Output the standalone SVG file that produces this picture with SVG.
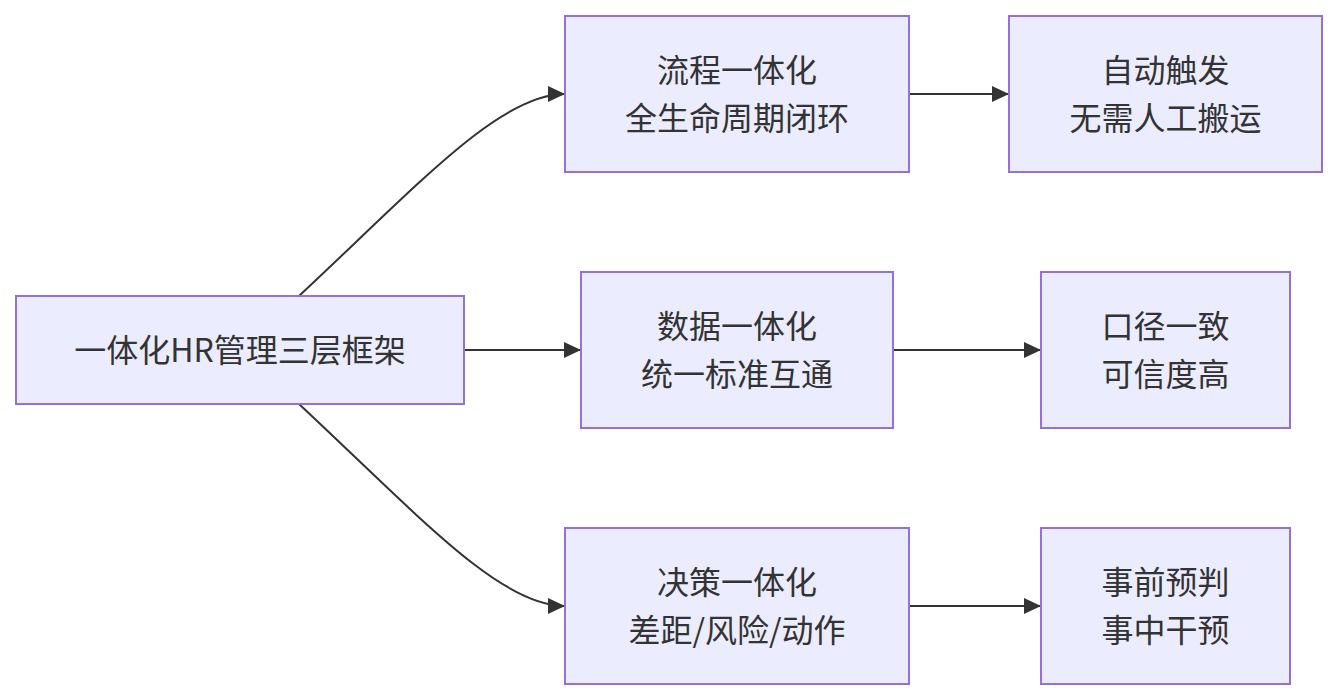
<svg xmlns="http://www.w3.org/2000/svg" width="1337" height="700" viewBox="0 0 1337 700">
<style>
.node rect{fill:#ECECFF;stroke:#9370DB;stroke-width:2}
.node text{font-family:"Noto Sans CJK SC","Noto Sans",sans-serif;font-size:32px;fill:#333;text-anchor:middle;dominant-baseline:central}
.edge{fill:none;stroke:#333;stroke-width:2}
</style>
<defs>
<marker id="arr" markerUnits="userSpaceOnUse" markerWidth="17" markerHeight="16" refX="17" refY="8" orient="auto">
<path d="M0,0 L17,8 L0,16 z" fill="#333"/>
</marker>
</defs>
<rect width="1337" height="700" fill="#fff"/>
<g id="connectors">
<path class="edge" d="M299,296 C420,183 500,94 565,94" marker-end="url(#arr)"/>
<path class="edge" d="M464,350 L581,350" marker-end="url(#arr)"/>
<path class="edge" d="M299,404 C420,517 500,606 565,606" marker-end="url(#arr)"/>
<path class="edge" d="M909,94 L1009,94" marker-end="url(#arr)"/>
<path class="edge" d="M893,350 L1041,350" marker-end="url(#arr)"/>
<path class="edge" d="M909,606 L1041,606" marker-end="url(#arr)"/>
</g>
<g id="A" class="node"><rect x="16" y="296" width="448" height="108"/><text x="240" y="348">一体化HR管理三层框架</text></g>
<g id="B1" class="node"><rect x="565" y="16" width="344" height="156"/><text x="737" y="68">流程一体化</text><text x="737" y="116">全生命周期闭环</text></g>
<g id="B2" class="node"><rect x="581" y="272" width="312" height="156"/><text x="737" y="324">数据一体化</text><text x="737" y="372">统一标准互通</text></g>
<g id="B3" class="node"><rect x="565" y="528" width="344" height="156"/><text x="737" y="580">决策一体化</text><text x="737" y="628">差距/风险/动作</text></g>
<g id="C1" class="node"><rect x="1009" y="16" width="313" height="156"/><text x="1165.5" y="68">自动触发</text><text x="1165.5" y="116">无需人工搬运</text></g>
<g id="C2" class="node"><rect x="1041" y="272" width="249" height="156"/><text x="1165.5" y="324">口径一致</text><text x="1165.5" y="372">可信度高</text></g>
<g id="C3" class="node"><rect x="1041" y="528" width="249" height="156"/><text x="1165.5" y="580">事前预判</text><text x="1165.5" y="628">事中干预</text></g>
</svg>
